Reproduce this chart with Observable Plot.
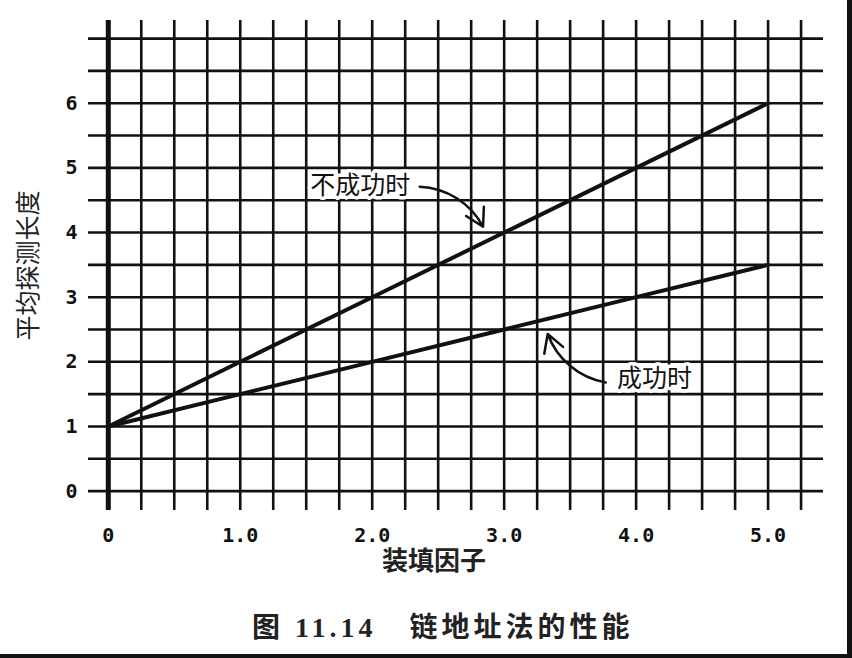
<!DOCTYPE html>
<html>
<head>
<meta charset="utf-8">
<script src="https://cdn.jsdelivr.net/npm/d3@7"></script>
<script src="https://cdn.jsdelivr.net/npm/@observablehq/plot@0.6"></script>
<style>
  html, body { margin: 0; padding: 0; background: #fff; }
  #wrap { position: relative; width: 847px; height: 654px; border-right: 5px solid #111; border-bottom: 4px solid #111; background: #fff; overflow: hidden; }
  #caption { position: absolute; left: 252px; top: 605px; white-space: pre; font-family: "Liberation Serif", "Noto Sans CJK SC", serif; font-weight: 700; font-size: 28px; letter-spacing: 4px; color: #222; }
</style>
</head>
<body>
<div id="wrap"><div id="chart"></div><div id="caption">图 11.14   链地址法的性能</div></div>
<script>
// Data
const loadFactors = [0, 1, 2, 3, 4, 5];
const unsuccessful = [1, 2, 3, 4, 5, 6];
const successful = [1, 1.5, 2, 2.5, 3, 3.5];
const xTicks = [0, 1, 2, 3, 4, 5];
const xTickLabels = ["0", "1.0", "2.0", "3.0", "4.0", "5.0"];
const yTicks = [0, 1, 2, 3, 4, 5, 6];
const xGrid = d3.range(0, 5.26, 0.25);
const yGrid = d3.range(0, 7.01, 0.5);
const labelNames = ["不成功时", "成功时"];
const labelX = [1.91, 4.14];
const labelY = [4.72, 1.74];
const arrowX1 = [2.36, 3.77];
const arrowY1 = [4.71, 1.68];
const arrowX2 = [2.84, 3.33];
const arrowY2 = [4.09, 2.43];
const xTitle = "装填因子";
const yTitle = "平均探测长度";

const series = [
  ...loadFactors.map((a, i) => ({a, v: unsuccessful[i], s: "不成功时"})),
  ...loadFactors.map((a, i) => ({a, v: successful[i], s: "成功时"}))
];
const labels = labelNames.map((t, i) => ({t, x: labelX[i], y: labelY[i]}));
const arrows = arrowX1.map((x1, i) => ({x1, y1: arrowY1[i], x2: arrowX2[i], y2: arrowY2[i]}));

const chart = Plot.plot({
  width: 847,
  height: 590,
  marginLeft: 88,
  marginRight: 24,
  marginTop: 20,
  marginBottom: 80,
  x: {domain: [-0.15, 5.42]},
  y: {domain: [-0.3, 7.28]},
  style: {background: "white"},
  marks: [
    Plot.ruleX(xGrid, {stroke: "#111", strokeWidth: 2.6}),
    Plot.ruleX([0], {stroke: "#111", strokeWidth: 5}),
    Plot.ruleY(yGrid, {stroke: "#111", strokeWidth: 2.6}),
    Plot.line(series, {x: "a", y: "v", z: "s", stroke: "#111", strokeWidth: 4}),
    Plot.text(labels, {x: "x", y: "y", text: "t", fontSize: 25, fontFamily: "Noto Sans CJK SC", fill: "#111", stroke: "white", strokeWidth: 7}),
    Plot.arrow(arrows, {x1: "x1", y1: "y1", x2: "x2", y2: "y2", bend: 30, stroke: "#111", strokeWidth: 2.5, headLength: 12}),
    Plot.axisX({ticks: xTicks, tickFormat: (d) => xTickLabels[xTicks.indexOf(d)], tickSize: 0, tickPadding: 17, label: null, fontSize: 20, fontFamily: "DejaVu Sans Mono", fontWeight: "bold", fill: "#111"}),
    Plot.axisY({ticks: yTicks, tickFormat: d => String(d), tickSize: 0, tickPadding: 11, label: null, fontSize: 20, fontFamily: "DejaVu Sans Mono", fontWeight: "bold", fill: "#111"}),
    Plot.text([xTitle], {frameAnchor: "bottom", dy: 59, dx: -22, fontSize: 26, fontFamily: "Noto Sans CJK SC", fontWeight: "bold", fill: "#222"}),
    Plot.text([yTitle], {frameAnchor: "left", textAnchor: "middle", dx: -60, rotate: -90, fontSize: 25, fontFamily: "Noto Sans CJK SC", fill: "#222"})
  ]
});
document.getElementById("chart").appendChild(chart);
</script>
</body>
</html>
